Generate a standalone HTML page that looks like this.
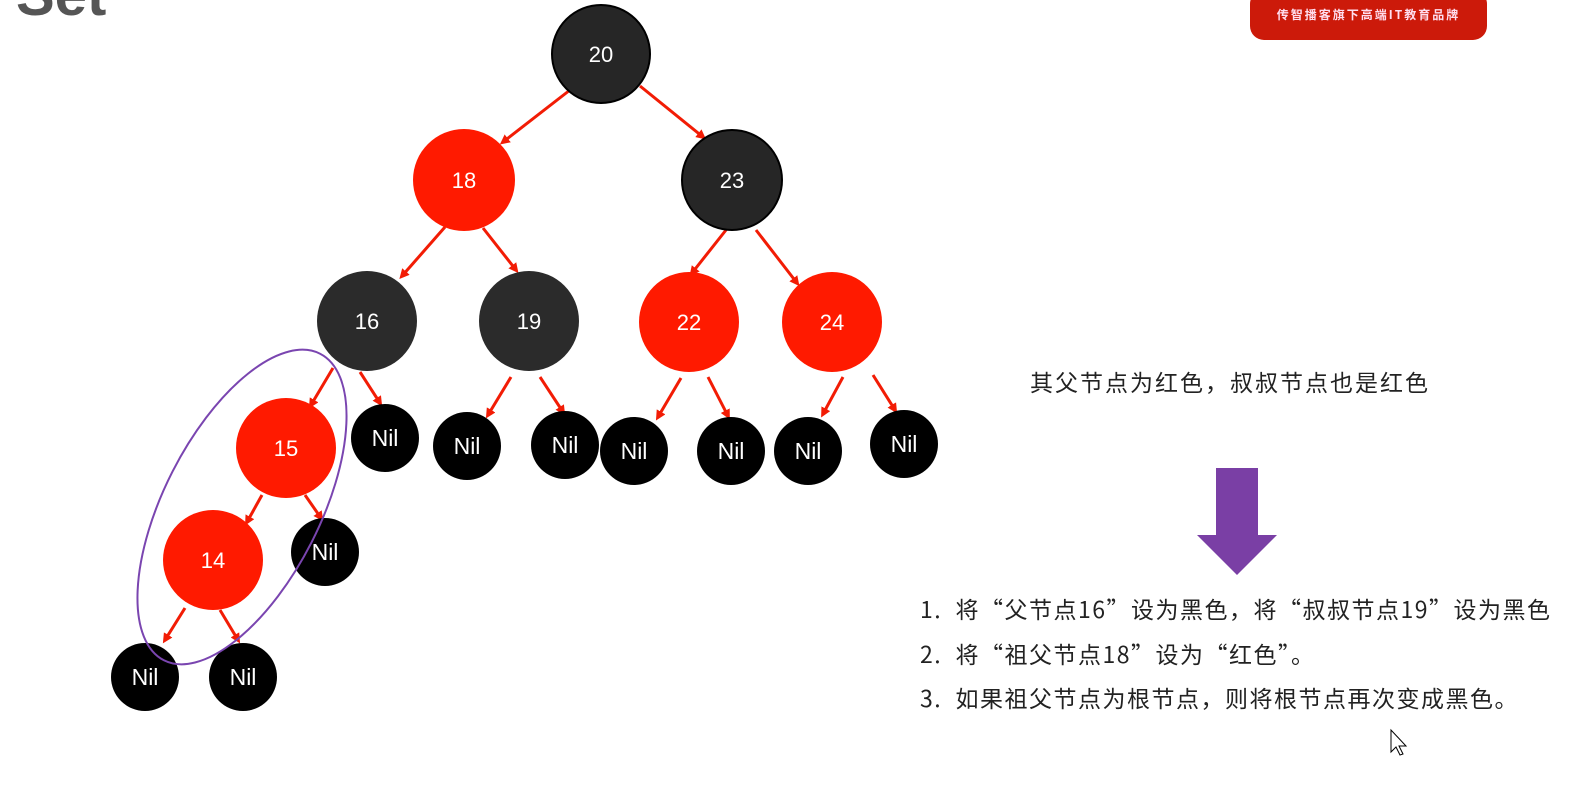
<!DOCTYPE html>
<html><head><meta charset="utf-8"><style>
body{margin:0;width:1585px;height:786px;background:#fff;overflow:hidden;position:relative;font-family:"Liberation Sans","Noto Sans CJK SC",sans-serif}
.t{position:absolute;font-size:23px;color:#222;white-space:nowrap;font-family:"Noto Sans CJK SC",sans-serif;letter-spacing:1.5px;line-height:30px}
</style></head><body>
<div style="position:absolute;left:16px;top:-38px;font-size:58px;font-weight:bold;color:#555;font-family:'Liberation Sans',sans-serif">Set</div>
<div style="position:absolute;left:1250px;top:-10px;width:237px;height:50px;background:#cc1a0a;border-radius:14px;color:#fde;font-size:12px;text-align:center;line-height:14px;padding-top:18px;box-sizing:border-box;font-family:'Noto Sans CJK SC',sans-serif;font-weight:bold;letter-spacing:2px">传智播客旗下高端IT教育品牌</div>
<svg width="1585" height="786" style="position:absolute;left:0;top:0">
<defs><marker id="a" markerWidth="10" markerHeight="10" refX="6" refY="5" orient="auto" markerUnits="userSpaceOnUse"><path d="M0,0 L10,5 L0,10 z" fill="#f21c05"/></marker></defs>
<g stroke="#f21c05" stroke-width="3" marker-end="url(#a)">
<line x1="570" y1="90" x2="503" y2="142"/><line x1="640" y1="86" x2="703" y2="137"/>
<line x1="445" y1="227" x2="402" y2="276"/><line x1="483" y1="228" x2="516" y2="270"/>
<line x1="726" y1="230" x2="692" y2="273"/><line x1="756" y1="230" x2="797" y2="283"/>
<line x1="333" y1="368" x2="311" y2="405"/><line x1="360" y1="372" x2="380" y2="403"/>
<line x1="511" y1="377" x2="488" y2="415"/><line x1="540" y1="377" x2="563" y2="412"/>
<line x1="681" y1="378" x2="658" y2="417"/><line x1="708" y1="377" x2="728" y2="416"/>
<line x1="843" y1="377" x2="823" y2="414"/><line x1="873" y1="375" x2="895" y2="410"/>
<line x1="262" y1="495" x2="247" y2="522"/><line x1="305" y1="495" x2="321" y2="518"/>
<line x1="185" y1="608" x2="165" y2="640"/><line x1="220" y1="610" x2="238" y2="640"/>
</g>
<g font-family="Liberation Sans,sans-serif" font-size="22" fill="#fff" text-anchor="middle">
<circle cx="601" cy="54" r="49" fill="#262626" stroke="#000" stroke-width="2"/><text x="601" y="62">20</text>
<circle cx="464" cy="180" r="51" fill="#ff1a00"/><text x="464" y="188">18</text>
<circle cx="732" cy="180" r="50" fill="#262626" stroke="#000" stroke-width="2"/><text x="732" y="188">23</text>
<circle cx="367" cy="321" r="50" fill="#2b2b2b"/><text x="367" y="329">16</text>
<circle cx="529" cy="321" r="50" fill="#2b2b2b"/><text x="529" y="329">19</text>
<circle cx="689" cy="322" r="50" fill="#ff1a00"/><text x="689" y="330">22</text>
<circle cx="832" cy="322" r="50" fill="#ff1a00"/><text x="832" y="330">24</text>
<circle cx="286" cy="448" r="50" fill="#ff1a00"/><text x="286" y="456">15</text>
<circle cx="213" cy="560" r="50" fill="#ff1a00"/><text x="213" y="568">14</text>
<g font-size="23">
<circle cx="385" cy="438" r="34" fill="#000"/><text x="385" y="446">Nil</text>
<circle cx="467" cy="446" r="34" fill="#000"/><text x="467" y="454">Nil</text>
<circle cx="565" cy="445" r="34" fill="#000"/><text x="565" y="453">Nil</text>
<circle cx="634" cy="451" r="34" fill="#000"/><text x="634" y="459">Nil</text>
<circle cx="731" cy="451" r="34" fill="#000"/><text x="731" y="459">Nil</text>
<circle cx="808" cy="451" r="34" fill="#000"/><text x="808" y="459">Nil</text>
<circle cx="904" cy="444" r="34" fill="#000"/><text x="904" y="452">Nil</text>
<circle cx="325" cy="552" r="34" fill="#000"/><text x="325" y="560">Nil</text>
<circle cx="145" cy="677" r="34" fill="#000"/><text x="145" y="685">Nil</text>
<circle cx="243" cy="677" r="34" fill="#000"/><text x="243" y="685">Nil</text>
</g></g>
<ellipse cx="242" cy="507" rx="78" ry="172" transform="rotate(27 242 507)" fill="none" stroke="#7a45b0" stroke-width="2"/>
<rect x="1216" y="468" width="42" height="68" fill="#7a3fa5"/>
<polygon points="1197,535 1277,535 1237,575" fill="#7a3fa5"/>
<path d="M1391,730 l0,22 l5,-5 l4,8 l3,-1 l-4,-8 l7,0 z" fill="#fff" stroke="#000" stroke-width="1"/>
</svg>
<div class="t" style="left:1030px;top:366px;letter-spacing:2px">其父节点为红色，叔叔节点也是红色</div>
<div class="t" style="left:920px;top:593px">1.&nbsp;&nbsp;将“父节点16”设为黑色，将“叔叔节点19”设为黑色</div>
<div class="t" style="left:920px;top:638px">2.&nbsp;&nbsp;将“祖父节点18”设为“红色”。</div>
<div class="t" style="left:920px;top:682px">3.&nbsp;&nbsp;如果祖父节点为根节点，则将根节点再次变成黑色。</div>
</body></html>
